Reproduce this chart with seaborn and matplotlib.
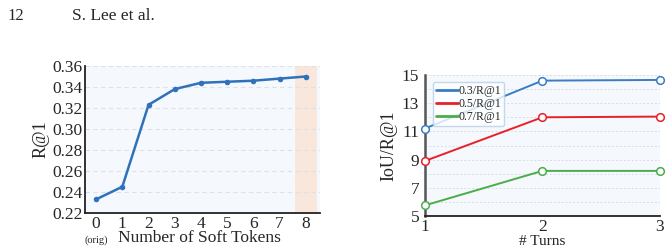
import matplotlib
matplotlib.use("Agg")
import matplotlib.pyplot as plt
import seaborn as sns
import pandas as pd
import numpy as np

sns.set_theme(style="white")
plt.rcParams['font.family'] = ['Liberation Serif', 'DejaVu Serif']
plt.rcParams['mathtext.fontset'] = 'stix'

# Left chart data
tokens = [0, 1, 2, 3, 4, 5, 6, 7, 8]
tok_labels = ["0", "1", "2", "3", "4", "5", "6", "7", "8"]
r_at_1 = [0.233, 0.245, 0.323, 0.338, 0.344, 0.345, 0.346, 0.348, 0.350]
left_yticks = [0.22, 0.24, 0.26, 0.28, 0.30, 0.32, 0.34, 0.36]

# Right chart data
turns = [1, 2, 3]
iou03 = [11.2, 14.6, 14.65]
iou05 = [8.9, 12.0, 12.05]
iou07 = [5.75, 8.2, 8.2]
series_names = ["0.3/R@1", "0.5/R@1", "0.7/R@1"]
right_yticks = [5, 7, 9, 11, 13, 15]

fig = plt.figure(figsize=(6.7, 2.5), dpi=100)
fig.patch.set_facecolor("white")
fig.text(0.011, 0.936, "12", fontsize=12, va="center")
fig.text(0.107, 0.936, "S. Lee et al.", fontsize=12.5, va="center")

bg = "#f5f8fd"
dark = "#222222"

# Left axes
ax1 = fig.add_axes([0.127, 0.148, 0.351, 0.588])
ax1.set_facecolor(bg)
ax1.axvspan(7.6, 8.42, color="#fbe6d9", alpha=0.9, zorder=0, lw=0)
df1 = pd.DataFrame({"tokens": tokens, "r": r_at_1})
sns.lineplot(data=df1, x="tokens", y="r", ax=ax1, color="#2f72bb", lw=1.8,
             marker="o", markersize=4, markeredgewidth=0, zorder=3)
ax1.set_xlim(-0.42, 8.55)
ax1.set_ylim(0.22, 0.36)
ax1.set_yticks(left_yticks)
ax1.set_yticklabels([f"{v:.2f}" for v in left_yticks], fontsize=12.5)
ax1.set_xticks(tokens)
ax1.set_xticklabels(tok_labels, fontsize=12.5)
ax1.yaxis.grid(True, ls=(0, (4, 3)), color="#dde1e8", lw=0.8)
ax1.set_axisbelow(True)
for s in ["top", "right"]:
    ax1.spines[s].set_visible(False)
for s in ["left", "bottom"]:
    ax1.spines[s].set_color(dark)
    ax1.spines[s].set_linewidth(1.3)
ax1.tick_params(axis="both", length=0, pad=2)
ax1.set_ylabel("R@1", fontsize=13, labelpad=2)
ax1.set_xlabel("Number of Soft Tokens", fontsize=12.5)
ax1.xaxis.label.set_va("baseline")
ax1.xaxis.set_label_coords(0.485, -0.2)
ax1.text(0, -0.2, "(orig)", transform=ax1.get_xaxis_transform(),
         ha="center", va="baseline", fontsize=7.5)

# Right axes
ax2 = fig.add_axes([0.634, 0.136, 0.351, 0.564])
ax2.set_facecolor(bg)
df2 = pd.DataFrame({
    "turns": turns * 3,
    "val": iou03 + iou05 + iou07,
    "series": [series_names[0]] * 3 + [series_names[1]] * 3 + [series_names[2]] * 3,
})
palette = {series_names[0]: "#3a7dc2", series_names[1]: "#e82127", series_names[2]: "#4bad4a"}
sns.lineplot(data=df2, x="turns", y="val", hue="series", palette=palette, ax=ax2,
             lw=1.4, marker="o", markersize=5.5, markerfacecolor="white",
             markeredgewidth=1.1, zorder=3, clip_on=False)
for line in ax2.lines:
    line.set_markeredgecolor(line.get_color())
ax2.set_xlim(1, 3)
ax2.set_ylim(5, 15)
ax2.set_yticks(right_yticks)
ax2.set_yticklabels([str(v) for v in right_yticks], fontsize=12.5)
ax2.set_xticks(turns)
ax2.set_xticklabels([str(t) for t in turns], fontsize=12.5)
ax2.set_yticks(np.arange(5, 16, 1), minor=True)
ax2.yaxis.grid(True, which="both", ls=(0, (2, 2)), color="#d8dce4", lw=0.7)
ax2.set_axisbelow(True)
for s in ["top", "right"]:
    ax2.spines[s].set_visible(False)
ax2.spines["left"].set_color("#555555")
ax2.spines["left"].set_linewidth(1.8)
ax2.spines["bottom"].set_color(dark)
ax2.spines["bottom"].set_linewidth(1.3)
ax2.tick_params(axis="x", which="both", length=0, pad=2)
ax2.tick_params(axis="y", which="both", length=0, pad=4)
ax2.set_ylabel("IoU/R@1", fontsize=13, labelpad=3)
ax2.set_xlabel("# Turns", fontsize=11)
ax2.xaxis.label.set_va("baseline")
ax2.xaxis.set_label_coords(0.5, -0.205)
handles, labels = ax2.get_legend_handles_labels()
for h in handles:
    h.set_marker("")
leg = ax2.legend(handles, labels, loc="upper left", bbox_to_anchor=(0.034, 0.95),
                 fontsize=8.5, frameon=True, fancybox=True, handlelength=1.9,
                 handletextpad=0.05, borderpad=0.25, labelspacing=0.1,
                 borderaxespad=0.0)
leg.get_frame().set_edgecolor("#b9cfe8")
leg.get_frame().set_linewidth(1.0)
leg.get_frame().set_facecolor("white")
for h in leg.get_lines():
    h.set_linewidth(2.0)

fig.savefig("out.png", dpi=100)
